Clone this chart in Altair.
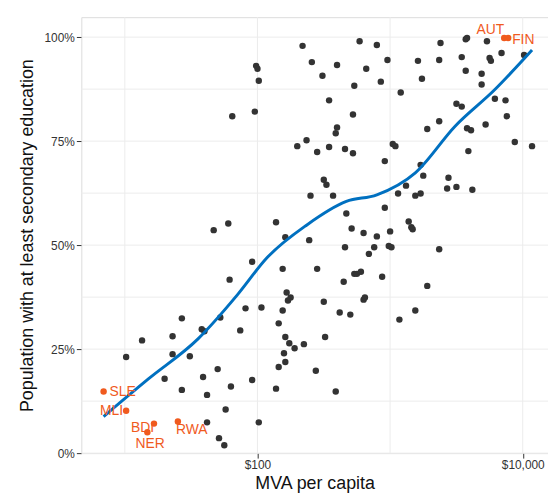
import altair as alt
import pandas as pd

# log10 of MVA per capita (USD) and share with at least secondary education (%)
mva_log = [2.34, 2.41, 2.60, 2.49, 1.99, 2.00, 2.01, 2.54, 1.81, 1.98, 2.73, 2.72, 2.60, 2.59, 2.37,
           2.30, 2.45, 2.54, 2.66, 2.72, 2.50, 2.52, 2.40, 2.57, 2.67, 2.71, 2.14, 2.21, 2.39, 1.78,
           1.67, 2.66, 2.77, 2.90, 2.82, 2.98, 2.93, 3.08, 2.96, 3.02, 3.04, 3.21, 3.24, 3.38, 3.37,
           3.54, 3.57, 3.57, 3.58, 3.73, 3.75, 3.76, 3.84, 3.69, 3.69, 4.01, 3.79, 3.87, 3.88, 3.72,
           3.50, 3.54, 3.37, 3.28, 3.58, 3.61, 3.94, 4.07, 3.59, 3.23, 3.25, 3.44, 3.43, 3.50, 3.62,
           3.06, 3.12, 3.19, 3.23, 2.96, 2.80, 2.90, 3.00, 3.14, 3.16, 3.17, 2.88, 2.99, 3.01, 3.37,
           1.96, 2.19, 2.45, 1.79, 2.65, 2.73, 2.22, 2.25, 2.23, 1.91, 2.03, 2.19, 2.50, 2.62, 2.70,
           1.43, 1.72, 1.13, 1.36, 1.58, 1.60, 1.87, 2.16, 2.21, 2.24, 2.28, 2.35, 2.51, 1.01, 1.36,
           1.49, 2.20, 2.21, 2.16, 1.70, 1.59, 1.30, 1.96, 2.44, 1.43, 1.62, 1.80, 2.14, 2.59, 1.76,
           1.62, 2.01, 1.71, 1.75, 2.84, 2.75, 2.78, 2.94, 3.28, 2.80, 2.81, 3.07, 3.19]
edu = [97.9, 94.0, 93.3, 90.7, 93.1, 92.4, 89.5, 84.8, 81.0, 82.1, 88.3, 81.4, 78.3, 76.9, 75.2,
       73.8, 72.4, 73.6, 73.1, 72.1, 65.7, 64.5, 61.9, 61.9, 57.6, 54.0, 55.5, 51.9, 51.2, 55.2,
       53.6, 49.5, 99.0, 98.1, 92.4, 94.5, 89.3, 86.7, 70.2, 74.3, 73.8, 94.3, 90.0, 98.6, 94.5,
       95.2, 91.9, 99.5, 99.8, 99.0, 95.0, 94.3, 96.2, 91.2, 88.6, 95.7, 85.2, 84.8, 81.0, 79.0,
       84.0, 83.3, 79.8, 77.9, 78.1, 77.6, 74.8, 73.8, 72.6, 69.3, 66.7, 66.2, 63.6, 64.0, 63.3,
       62.4, 64.3, 61.9, 62.4, 59.0, 52.9, 52.1, 53.3, 55.7, 54.3, 53.8, 49.5, 49.8, 49.5, 49.0,
       46.0, 44.3, 44.3, 41.7, 41.2, 43.1, 38.6, 37.4, 36.7, 34.8, 35.0, 34.3, 36.4, 33.8, 33.3,
       32.4, 32.6, 27.1, 28.1, 29.8, 29.3, 29.5, 31.2, 27.9, 26.4, 25.2, 26.2, 27.9, 23.1, 23.8,
       23.3, 24.0, 21.9, 20.7, 20.2, 18.3, 17.9, 17.6, 19.8, 15.2, 14.0, 16.0, 15.5, 14.8, 10.5,
       7.4, 7.4, 3.6, 1.9, 47.9, 43.1, 43.6, 42.4, 40.2, 36.9, 37.4, 32.1, 34.3]

hl_names = ["SLE", "MLI", "BDI", "NER", "RWA", "AUT", "FIN"]
hl_mva_log = [0.84, 1.01, 1.22, 1.17, 1.40, 3.86, 3.89]
hl_edu = [14.8, 10.2, 7.1, 5.0, 7.6, 99.8, 99.8]

fit_mva_log = [0.84, 1.18, 1.55, 1.85, 2.07, 2.37, 2.67, 2.90, 3.19, 3.49, 3.79, 4.07]
fit_edu = [8.8, 17.9, 27.4, 38.1, 46.9, 54.8, 60.5, 62.1, 67.4, 78.6, 87.4, 96.9]

x_grid = [10, 100, 1000, 10000]
y_grid = [0, 12.5, 25, 37.5, 50, 62.5, 75, 87.5, 100]

pts = pd.DataFrame({"mva": [10 ** v for v in mva_log], "edu": edu})
hl = pd.DataFrame({"mva": [10 ** v for v in hl_mva_log], "edu": hl_edu, "name": hl_names})
fit = pd.DataFrame({"mva": [10 ** v for v in fit_mva_log], "edu": fit_edu})

xs = alt.Scale(type="log", domain=[4.7, 15500], nice=False)
ys = alt.Scale(domain=[0, 104.8], nice=False)
x_ax = alt.Axis(values=[100, 10000], labelExpr="'$' + format(datum.value, ',')", grid=False,
                labelFontSize=12, labelColor="#333", tickColor="#333", domain=False,
                titleFontSize=18, titleFontWeight="normal", titleColor="#111", titlePadding=4)
y_ax = alt.Axis(values=[0, 25, 50, 75, 100], labelExpr="datum.value + '%'", grid=False,
                labelFontSize=12, labelColor="#333", tickColor="#333", domain=False,
                titleFontSize=18, titleFontWeight="normal", titleColor="#111", titlePadding=8)
x_title = "MVA per capita"
y_title = "Population with at least secondary education"

vgrid = alt.Chart(pd.DataFrame({"g": x_grid})).mark_rule(color="#ececec", strokeWidth=1).encode(
    x=alt.X("g:Q", scale=xs, axis=x_ax, title=x_title))
hgrid = alt.Chart(pd.DataFrame({"g": y_grid})).mark_rule(color="#ececec", strokeWidth=1).encode(
    y=alt.Y("g:Q", scale=ys, axis=y_ax, title=y_title))

dots = alt.Chart(pts).mark_circle(size=42, color="#333333", opacity=1).encode(
    x=alt.X("mva:Q", scale=xs, axis=x_ax, title=x_title),
    y=alt.Y("edu:Q", scale=ys, axis=y_ax, title=y_title))

line = alt.Chart(fit).mark_line(color="#0070c0", strokeWidth=3, interpolate="monotone").encode(
    x=alt.X("mva:Q", scale=xs), y=alt.Y("edu:Q", scale=ys))

hl_dots = alt.Chart(hl).mark_circle(size=42, color="#f05a1e", opacity=1).encode(
    x=alt.X("mva:Q", scale=xs), y=alt.Y("edu:Q", scale=ys))

# label offsets per country: (align, dx, dy)
offs = {"SLE": ("left", 6, 0), "MLI": ("right", -3, 0), "BDI": ("right", 0, 4),
        "NER": ("left", -12, 12), "RWA": ("left", -2, 9), "AUT": ("right", 0, -8),
        "FIN": ("left", 4, 2)}
labels = []
for n in hl_names:
    a, dx, dy = offs[n]
    labels.append(alt.Chart(hl[hl.name == n]).mark_text(
        align=a, dx=dx, dy=dy, baseline="middle", fontSize=14, color="#f05a1e").encode(
        x=alt.X("mva:Q", scale=xs), y=alt.Y("edu:Q", scale=ys), text="name:N"))

chart = alt.layer(vgrid, hgrid, dots, line, hl_dots, *labels).properties(
    width=471, height=440,
    autosize=alt.AutoSizeParams(type="none"),
    padding={"left": 74, "top": 7, "right": 0, "bottom": 40},
).configure_view(stroke="#999999", strokeWidth=1).configure(font="Liberation Sans")

chart.save("out.html", embed_options={"renderer": "svg", "actions": False})
